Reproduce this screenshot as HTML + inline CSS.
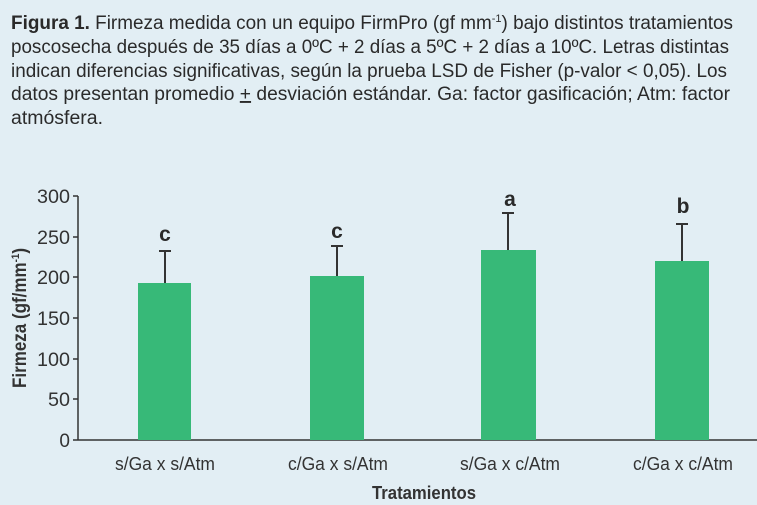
<!DOCTYPE html>
<html><head><meta charset="utf-8"><style>
html,body{margin:0;padding:0;background:#e2eef4;}
svg{display:block;font-family:"Liberation Sans",sans-serif;}
</style></head><body>
<svg width="757" height="505" viewBox="0 0 757 505">
<rect width="757" height="505" fill="#e2eef4"/>
<g font-size="19" fill="#2a2a2a">
<text x="11" y="29" textLength="722" lengthAdjust="spacingAndGlyphs"><tspan font-weight="bold">Figura 1.</tspan> Firmeza medida con un equipo FirmPro (gf mm<tspan font-size="11" dy="-7">-1</tspan><tspan dy="7">) bajo distintos tratamientos</tspan></text>
<text x="11" y="53" textLength="718" lengthAdjust="spacingAndGlyphs">poscosecha después de 35 días a 0ºC + 2 días a 5ºC + 2 días a 10ºC. Letras distintas</text>
<text x="11" y="77" textLength="716" lengthAdjust="spacingAndGlyphs">indican diferencias significativas, según la prueba LSD de Fisher (p-valor &lt; 0,05). Los</text>
<text x="11" y="100" textLength="719" lengthAdjust="spacingAndGlyphs">datos presentan promedio <tspan text-decoration="underline">+</tspan> desviación estándar. Ga: factor gasificación; Atm: factor</text>
<text x="11" y="124" textLength="92" lengthAdjust="spacingAndGlyphs">atmósfera.</text>
</g>
<g stroke="#333" stroke-width="1.5">
<line x1="78" y1="196" x2="78" y2="440"/>
<line x1="78" y1="440" x2="757" y2="440"/>
<line x1="73" y1="196" x2="78" y2="196"/>
<line x1="73" y1="237" x2="78" y2="237"/>
<line x1="73" y1="277" x2="78" y2="277"/>
<line x1="73" y1="318" x2="78" y2="318"/>
<line x1="73" y1="359" x2="78" y2="359"/>
<line x1="73" y1="399" x2="78" y2="399"/>
<line x1="73" y1="440" x2="78" y2="440"/>
</g>
<g font-size="19" fill="#333" text-anchor="end">
<text x="70" y="203" textLength="33" lengthAdjust="spacingAndGlyphs">300</text><text x="70" y="244" textLength="33" lengthAdjust="spacingAndGlyphs">250</text><text x="70" y="284" textLength="33" lengthAdjust="spacingAndGlyphs">200</text>
<text x="70" y="325" textLength="33" lengthAdjust="spacingAndGlyphs">150</text><text x="70" y="366" textLength="33" lengthAdjust="spacingAndGlyphs">100</text><text x="70" y="406" textLength="22" lengthAdjust="spacingAndGlyphs">50</text><text x="70" y="447">0</text>
</g>
<text transform="translate(26,318) rotate(-90)" text-anchor="middle" font-size="19" font-weight="bold" fill="#333" textLength="140" lengthAdjust="spacingAndGlyphs">Firmeza (gf/mm<tspan font-size="11" dy="-7">-1</tspan><tspan dy="7">)</tspan></text>
<g stroke="#333" stroke-width="2">
<line x1="165" y1="283" x2="165" y2="251"/><line x1="159" y1="251" x2="171" y2="251"/>
<line x1="337" y1="276" x2="337" y2="246"/><line x1="331" y1="246" x2="343" y2="246"/>
<line x1="508" y1="250" x2="508" y2="213"/><line x1="502" y1="213" x2="514" y2="213"/>
<line x1="682" y1="261" x2="682" y2="224"/><line x1="676" y1="224" x2="688" y2="224"/>
</g>
<g fill="#37b978">
<rect x="138" y="283" width="53" height="157"/>
<rect x="310" y="276" width="54" height="164"/>
<rect x="481" y="250" width="55" height="190"/>
<rect x="655" y="261" width="54" height="179"/>
</g>
<g font-size="21" font-weight="bold" fill="#2a2a2a" text-anchor="middle">
<text x="165" y="241">c</text><text x="337" y="238">c</text><text x="510" y="206">a</text><text x="683" y="213">b</text>
</g>
<g font-size="18" fill="#333" text-anchor="middle">
<text x="165" y="470" textLength="100" lengthAdjust="spacingAndGlyphs">s/Ga x s/Atm</text><text x="338" y="470" textLength="100" lengthAdjust="spacingAndGlyphs">c/Ga x s/Atm</text>
<text x="510" y="470" textLength="100" lengthAdjust="spacingAndGlyphs">s/Ga x c/Atm</text><text x="683" y="470" textLength="100" lengthAdjust="spacingAndGlyphs">c/Ga x c/Atm</text>
<text x="424" y="499" font-weight="bold" textLength="104" lengthAdjust="spacingAndGlyphs">Tratamientos</text>
</g>
</svg>
</body></html>
